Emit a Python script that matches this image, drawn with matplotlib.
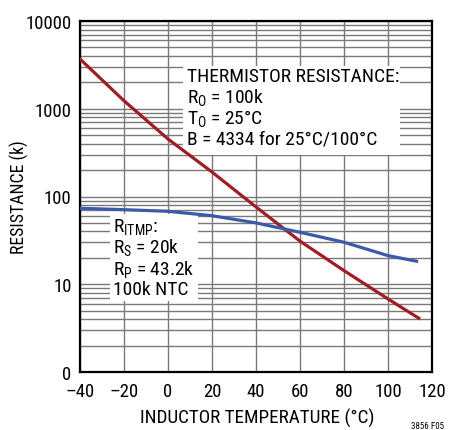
import numpy as np
import matplotlib
matplotlib.use("Agg")
import matplotlib.pyplot as plt
from matplotlib.patches import Rectangle

plt.rcParams["font.family"] = ["Roboto Condensed", "DejaVu Sans"]
plt.rcParams["mathtext.fontset"] = "custom"
plt.rcParams["mathtext.rm"] = "Roboto Condensed"
plt.rcParams["mathtext.it"] = "Roboto Condensed"

# thermistor resistance (red) and R_ITMP network (blue)
temp_therm = [-40, -20, 0, 20, 40, 60, 80, 100, 114]
r_therm = [3690, 1233, 452, 190, 76, 31, 14.3, 6.8, 4.1]

temp_itmp = [-40, -20, 0, 20, 40, 60, 80, 100, 113]
r_itmp = [73.4, 70.8, 67.8, 60.4, 50, 39.1, 30.1, 21.2, 18.3]

xticks = [-40, -20, 0, 20, 40, 60, 80, 100, 120]
xticklabels = ["\u201340", "\u201320", "0", "20", "40", "60", "80", "100", "120"]
yticks = [1, 10, 100, 1000, 10000]
yticklabels = ["0", "10", "100", "1000", "10000"]

red = "#a01e23"
blue = "#3c5aaa"
gridc = "#7a7a7a"

fig = plt.figure(figsize=(4.49, 4.31), dpi=100)
ax = fig.add_axes([80/449, 1-373/431, 352/449, 351/431])

ax.set_yscale("log")
ax.set_xlim(-40, 120)
ax.set_ylim(1, 10000)
ax.set_xticks(xticks)
ax.set_xticklabels(xticklabels)
ax.set_yticks(yticks)
ax.set_yticklabels(yticklabels)
ax.yaxis.set_minor_formatter(matplotlib.ticker.NullFormatter())
ax.tick_params(axis="both", which="both", length=0, labelsize=13.5)
ax.tick_params(axis="y", pad=6)
ax.tick_params(axis="x", pad=7.5)

ax.grid(True, which="major", axis="both", color=gridc, lw=1)
ax.grid(True, which="minor", axis="y", color=gridc, lw=1)
ax.set_axisbelow(True)
for s in ax.spines.values():
    s.set_linewidth(1.6)

ax.plot(temp_therm, r_therm, color=red, lw=2.3, zorder=4)
ax.plot(temp_itmp, r_itmp, color=blue, lw=2.3, zorder=4)

# white boxes behind the annotations (pixel coords of the figure)
def pixbox(x0, y0, x1, y1):
    r = Rectangle((x0/449, 1-y1/431), (x1-x0)/449, (y1-y0)/431,
                  transform=fig.transFigure, facecolor="white",
                  edgecolor="none", zorder=3)
    ax.add_artist(r)
    r.set_clip_on(False)

pixbox(183, 67, 400, 156)
pixbox(110, 215, 198, 302)

tsize = 14
lines1 = ["THERMISTOR RESISTANCE:", r"R$_\mathrm{O}$ = 100k", r"T$_\mathrm{O}$ = 25°C",
          "B = 4334 for 25°C/100°C"]
for i, t in enumerate(lines1):
    fig.text(187/449, 1-(77+21*i)/431, t, fontsize=tsize, va="center", ha="left", zorder=5)

lines2 = [r"R$_\mathrm{ITMP}$:", r"R$_\mathrm{S}$ = 20k", r"R$_\mathrm{P}$ = 43.2k", "100k NTC"]
for i, t in enumerate(lines2):
    fig.text(113/449, 1-(227+21*i)/431, t, fontsize=tsize, va="center", ha="left", zorder=5)

fig.text(257/449, 1-418/431, "INDUCTOR TEMPERATURE (°C)", fontsize=13.8, ha="center", va="center")
fig.text(19/449, 1-197/431, "RESISTANCE (k)", fontsize=12.8, ha="center", va="center", rotation=90)
fig.text(411/449, 1-427/431, "3856 F05", fontsize=6.5, ha="left", va="center")

fig.savefig("out.png", dpi=100)
